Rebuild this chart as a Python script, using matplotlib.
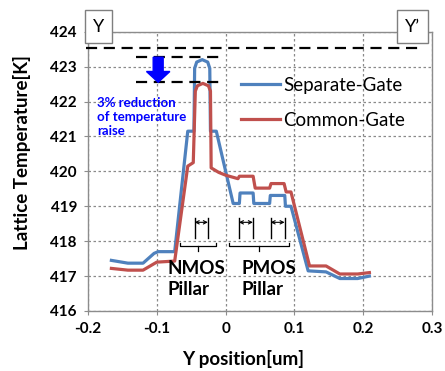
import matplotlib
matplotlib.use("Agg")
import matplotlib.pyplot as plt
from matplotlib.patches import Rectangle

plt.rcParams['font.family'] = ['Lato', 'DejaVu Sans']

# Separate-Gate (blue) lattice temperature along Y-Y'
sep_x = [-0.166, -0.142, -0.120, -0.104, -0.098, -0.074, -0.055, -0.046, -0.045,
         -0.042, -0.034, -0.026, -0.023, -0.022, -0.0135, 0.011, 0.020, 0.021,
         0.040, 0.041, 0.064, 0.065, 0.086, 0.087, 0.095, 0.120, 0.146, 0.166,
         0.192, 0.209]
sep_y = [417.45, 417.37, 417.37, 417.65, 417.70, 417.70, 421.15, 421.15, 422.95,
         423.13, 423.20, 423.13, 422.95, 421.15, 421.15, 419.08, 419.08, 419.38,
         419.38, 419.08, 419.08, 419.31, 419.31, 419.00, 419.00, 417.15, 417.12, 416.93,
         416.93, 417.00]

# Common-Gate (red)
com_x = [-0.166, -0.142, -0.120, -0.100, -0.074, -0.055, -0.047, -0.044, -0.041,
         -0.033, -0.025, -0.022, -0.021, -0.010, 0.000, 0.018, 0.020, 0.040,
         0.043, 0.064, 0.066, 0.085, 0.088, 0.095, 0.122, 0.146, 0.166, 0.192,
         0.209]
com_y = [417.22, 417.17, 417.17, 417.40, 417.43, 420.15, 420.25, 422.30, 422.45,
         422.52, 422.45, 422.30, 420.10, 419.97, 419.89, 419.79, 419.86, 419.86,
         419.52, 419.52, 419.65, 419.65, 419.41, 419.41, 417.29, 417.29, 417.06, 417.06,
         417.10]

labels = ['Separate-Gate', 'Common-Gate']
colors = ['#4F81BD', '#C0504D']

x_ticks = [-0.2, -0.1, 0, 0.1, 0.2, 0.3]
x_tick_labels = ['-0.2', '-0.1', '0', '0.1', '0.2', '0.3']
y_ticks = [416, 417, 418, 419, 420, 421, 422, 423, 424]

max_level = 423.53     # reference max (long dashed line)
sep_peak = 423.27
com_peak = 422.55

# pillar gate-width markers (left, right)
gate_marks = [(-0.045, -0.0257), (0.0193, 0.0397), (0.0654, 0.0858)]
brackets = [(-0.066, -0.014), (0.005, 0.092)]

W, H = 445, 371
fig = plt.figure(figsize=(W / 100, H / 100), dpi=100)
ax = fig.add_axes([88 / W, 1 - 311 / H, 344 / W, 279.3 / H])

for xs, ys, c, lab in [(sep_x, sep_y, colors[0], labels[0]), (com_x, com_y, colors[1], labels[1])]:
    ax.plot(xs, ys, color=c, lw=2.3, label=lab, solid_joinstyle='round', zorder=3)

ax.set_xlim(-0.2, 0.3)
ax.set_ylim(416, 424)
ax.set_xticks(x_ticks)
ax.set_xticklabels(x_tick_labels)
ax.set_yticks(y_ticks)
ax.grid(True, color='#8a8a8a', ls=(0, (2, 2)), lw=0.9)
for s in ax.spines.values():
    s.set_color('#8c8c8c')
    s.set_linewidth(1.0)
ax.tick_params(length=3, color='#8c8c8c', pad=5, labelsize=11)
for t in ax.get_xticklabels() + ax.get_yticklabels():
    t.set_fontweight('bold')

ax.set_xlabel('Y position[um]', fontsize=13.5, fontweight='bold')
ax.set_ylabel('Lattice Temperature[K]', fontsize=13.5, fontweight='bold')
ax.xaxis.set_label_coords(0.45, -0.14)
ax.yaxis.set_label_coords(-0.165, 0.566)

# dashed reference lines
ax.plot([-0.203, 0.287], [max_level, max_level], color='black', lw=1.6,
        dashes=(5, 3), clip_on=False, zorder=4)
for lvl in (sep_peak, com_peak):
    ax.plot([-0.13, -0.009], [lvl, lvl], color='black', lw=1.6, dashes=(5, 3), zorder=4)

ax.arrow(-0.098, sep_peak, 0, com_peak - sep_peak, width=0.0145, head_width=0.034,
         head_length=0.31, length_includes_head=True, color='#0000FF', zorder=5)
ax.text(-0.187, 422.12, '3% reduction\nof temperature\nraise', color='#0000FF',
        fontsize=9.5, fontweight='bold', va='top', ha='left', linespacing=1.2)

leg = ax.legend(loc='upper left', bbox_to_anchor=((241 - 88) / 344, (311 - 77) / 279.3),
                frameon=False, fontsize=13.5, handlelength=2.1, handletextpad=0.15,
                labelspacing=0.94, borderaxespad=0, borderpad=0)

# pillar width markers
for l, r in gate_marks:
    ax.plot([l, l], [418.1, 418.67], color='black', lw=1.0)
    ax.plot([r, r], [418.1, 418.67], color='black', lw=1.0)
    ax.annotate('', xy=(l, 418.54), xytext=(r, 418.54),
                arrowprops=dict(arrowstyle='<->', lw=0.8, color='black',
                                shrinkA=0, shrinkB=0, mutation_scale=6))
for l, r in brackets:
    m = (l + r) / 2
    ax.plot([l, l, r, r], [417.95, 417.86, 417.86, 417.95], color='black', lw=0.9)
    ax.plot([m, m], [417.86, 417.71], color='black', lw=0.9)

ax.text(-0.0843, 416.91, 'NMOS\nPillar', fontsize=13.5, fontweight='bold',
        ha='left', va='center', linespacing=1.3)
ax.text(0.0233, 416.91, 'PMOS\nPillar', fontsize=13.5, fontweight='bold',
        ha='left', va='center', linespacing=1.3)

# Y / Y' boxes
for x0, w, txt in [(85, 27, 'Y'), (397, 31, 'Y\u2019')]:
    fig.add_artist(Rectangle((x0 / W, 1 - 43 / H), w / W, 33 / H, transform=fig.transFigure,
                             facecolor='white', edgecolor='#7f7f7f', lw=1.0, zorder=10))
    fig.text((x0 + w / 2) / W, 1 - 26.5 / H, txt, ha='center', va='center',
             fontsize=13, zorder=11)

fig.savefig('out.png', dpi=100)
